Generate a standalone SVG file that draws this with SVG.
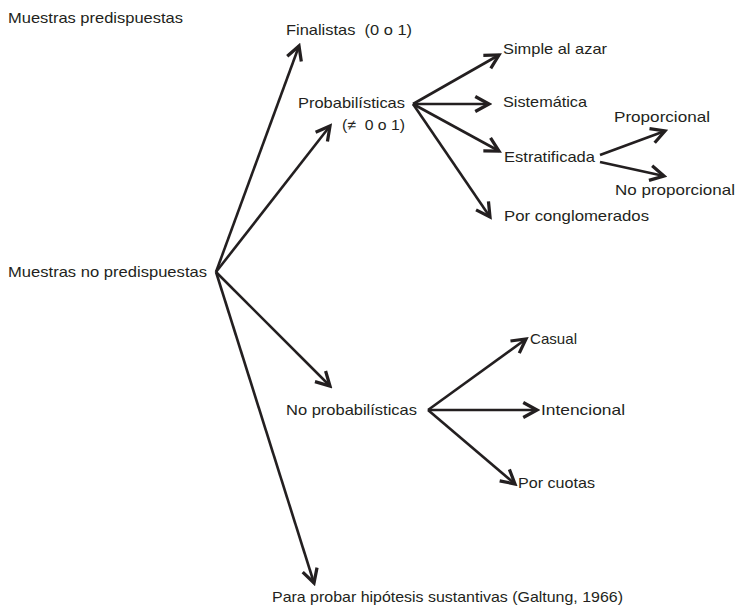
<svg xmlns="http://www.w3.org/2000/svg" width="737" height="609" viewBox="0 0 737 609">
<style>
text{font-family:"Liberation Sans",Arial,sans-serif;font-size:15px;fill:#231f20;}
.c line{stroke:#231f20;stroke-width:2.6;fill:none;marker-end:url(#ah);}
</style>
<defs>
<marker id="ah" markerUnits="userSpaceOnUse" markerWidth="20" markerHeight="20" viewBox="-13 -8 15 16" refX="0" refY="0" orient="auto">
<path d="M-11,-6 L0,0 L-11,6" fill="none" stroke="#231f20" stroke-width="2.6" stroke-linejoin="miter"/>
</marker>
</defs>
<rect width="737" height="609" fill="#fff"/>
<g id="connectors" class="c">
<line x1="216" y1="272" x2="299" y2="46"/>
<line x1="216" y1="272" x2="330" y2="126"/>
<line x1="216" y1="272" x2="330" y2="386"/>
<line x1="216" y1="272" x2="314" y2="583"/>
<line x1="413" y1="104" x2="499" y2="55"/>
<line x1="413" y1="104" x2="489" y2="104"/>
<line x1="413" y1="104" x2="499" y2="151"/>
<line x1="413" y1="104" x2="490" y2="217"/>
<line x1="600" y1="155" x2="665" y2="131"/>
<line x1="600" y1="162" x2="664" y2="176"/>
<line x1="428" y1="410" x2="526" y2="339"/>
<line x1="428" y1="410" x2="537" y2="410"/>
<line x1="428" y1="410" x2="515" y2="484"/>
</g>
<g id="muestras-predispuestas"><text x="8" y="23" textLength="175" lengthAdjust="spacingAndGlyphs">Muestras predispuestas</text></g>
<g id="muestras-no-predispuestas"><text x="8" y="277" textLength="199" lengthAdjust="spacingAndGlyphs">Muestras no predispuestas</text></g>
<g id="finalistas"><text x="286" y="35" textLength="126" lengthAdjust="spacingAndGlyphs" xml:space="preserve">Finalistas  (0 o 1)</text></g>
<g id="probabilisticas"><text x="298" y="108" textLength="107" lengthAdjust="spacingAndGlyphs">Probabilísticas</text><text x="342" y="130" textLength="63" lengthAdjust="spacingAndGlyphs" xml:space="preserve">(≠  0 o 1)</text></g>
<g id="simple"><text x="503" y="54" textLength="104" lengthAdjust="spacingAndGlyphs">Simple al azar</text></g>
<g id="sistematica"><text x="503" y="107" textLength="84" lengthAdjust="spacingAndGlyphs">Sistemática</text></g>
<g id="estratificada"><text x="504" y="162" textLength="91" lengthAdjust="spacingAndGlyphs">Estratificada</text></g>
<g id="proporcional"><text x="614" y="122" textLength="96" lengthAdjust="spacingAndGlyphs">Proporcional</text></g>
<g id="no-proporcional"><text x="615" y="195" textLength="120" lengthAdjust="spacingAndGlyphs">No proporcional</text></g>
<g id="conglomerados"><text x="504" y="221" textLength="145" lengthAdjust="spacingAndGlyphs">Por conglomerados</text></g>
<g id="no-probabilisticas"><text x="286" y="415" textLength="131" lengthAdjust="spacingAndGlyphs">No probabilísticas</text></g>
<g id="casual"><text x="530" y="344" textLength="47" lengthAdjust="spacingAndGlyphs">Casual</text></g>
<g id="intencional"><text x="541" y="415" textLength="84" lengthAdjust="spacingAndGlyphs">Intencional</text></g>
<g id="cuotas"><text x="518" y="488" textLength="77" lengthAdjust="spacingAndGlyphs">Por cuotas</text></g>
<g id="hipotesis"><text x="272" y="602" textLength="351" lengthAdjust="spacingAndGlyphs">Para probar hipótesis sustantivas (Galtung, 1966)</text></g>
</svg>
